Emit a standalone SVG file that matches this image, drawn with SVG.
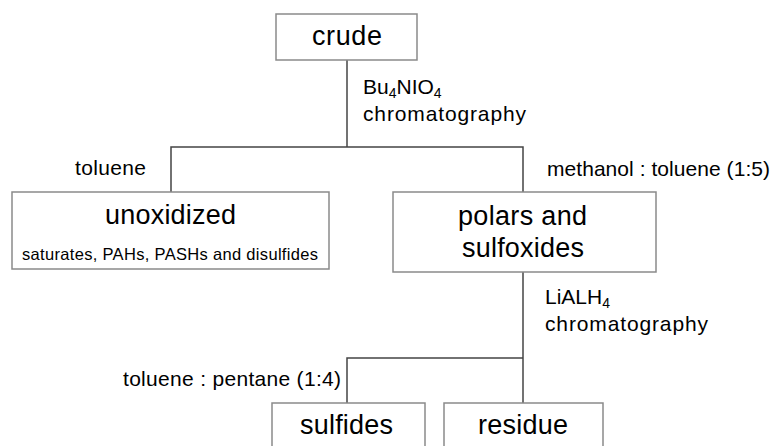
<svg xmlns="http://www.w3.org/2000/svg" width="776" height="446" viewBox="0 0 776 446">
  <style>
    .box { fill: #ffffff; stroke: #8a8a8a; stroke-width: 1.5; }
    .link { fill: none; stroke: #444444; stroke-width: 1.5; }
    text { font-family: "Liberation Sans", Arial, sans-serif; fill: #000000; }
    .big { font-size: 27px; }
    .lbl { font-size: 21px; }
    .small { font-size: 16.5px; }
    .sub { font-size: 14px; }
  </style>
  <rect width="776" height="446" fill="#ffffff"/>

  <!-- connectors -->
  <g id="connectors">
    <path class="link" d="M347 60 V147"/>
    <path class="link" d="M171 192 V147 H523 V192"/>
    <path class="link" d="M523 272 V403"/>
    <path class="link" d="M347 403 V358 H523"/>
  </g>

  <!-- step labels -->
  <g id="labels">
    <text class="lbl" x="363" y="94">Bu<tspan class="sub" dy="4">4</tspan><tspan dy="-4">NIO</tspan><tspan class="sub" dy="4">4</tspan></text>
    <text class="lbl" x="363" y="121" textLength="163" lengthAdjust="spacing">chromatography</text>
    <text class="lbl" x="75" y="175" textLength="71" lengthAdjust="spacing">toluene</text>
    <text class="lbl" x="547" y="176" textLength="223" lengthAdjust="spacing">methanol : toluene (1:5)</text>
    <text class="lbl" x="545" y="304">LiALH<tspan class="sub" dy="4">4</tspan></text>
    <text class="lbl" x="545" y="331" textLength="163" lengthAdjust="spacing">chromatography</text>
    <text class="lbl" x="123" y="386" textLength="218" lengthAdjust="spacing">toluene : pentane (1:4)</text>
  </g>

  <g id="crude">
    <rect class="box" x="276" y="14" width="141" height="46"/>
    <text class="big" x="347" y="45" text-anchor="middle" textLength="70" lengthAdjust="spacing">crude</text>
  </g>

  <g id="unoxidized">
    <rect class="box" x="12" y="192" width="317" height="77"/>
    <text class="big" x="170.5" y="224" text-anchor="middle" textLength="131" lengthAdjust="spacing">unoxidized</text>
    <text class="small" x="22" y="260" textLength="296" lengthAdjust="spacing">saturates, PAHs, PASHs and disulfides</text>
  </g>

  <g id="polars">
    <rect class="box" x="393" y="192" width="263" height="80"/>
    <text class="big" x="522.5" y="225" text-anchor="middle" textLength="129" lengthAdjust="spacing">polars and</text>
    <text class="big" x="523" y="257" text-anchor="middle" textLength="122" lengthAdjust="spacing">sulfoxides</text>
  </g>

  <g id="sulfides">
    <rect class="box" x="272" y="403" width="153" height="60"/>
    <text class="big" x="346.5" y="434" text-anchor="middle" textLength="93" lengthAdjust="spacing">sulfides</text>
  </g>

  <g id="residue">
    <rect class="box" x="444" y="403" width="159" height="60"/>
    <text class="big" x="523" y="434" text-anchor="middle" textLength="90" lengthAdjust="spacing">residue</text>
  </g>
</svg>
